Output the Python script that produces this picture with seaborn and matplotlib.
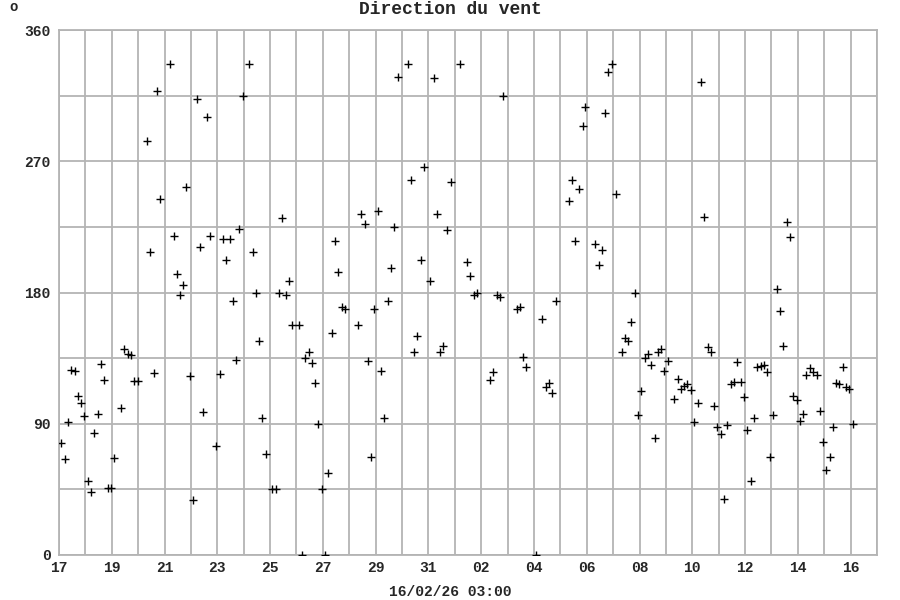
import matplotlib
matplotlib.use("Agg")
import matplotlib.pyplot as plt
import seaborn as sns
import pandas as pd

# Days elapsed since 17/01 00:00
days = [0.08, 0.22, 0.33, 0.47, 0.59, 0.71, 0.83, 0.96, 1.09, 1.21, 1.34, 1.46, 1.58, 1.72, 1.84, 1.97,
        2.10, 2.34, 2.48, 2.60, 2.73, 2.85, 2.98, 3.33, 3.46, 3.60, 3.72, 3.84, 4.22, 4.35, 4.46, 4.58,
        4.71, 4.82, 4.96, 5.09, 5.23, 5.33, 5.45, 5.59, 5.71, 5.96, 6.09, 6.20, 6.34, 6.48, 6.58, 6.72,
        6.82, 6.96, 7.19, 7.34, 7.46, 7.59, 7.71, 7.84, 8.09, 8.21, 8.33, 8.46, 8.59, 8.70, 8.83, 9.08,
        9.20, 9.33, 9.46, 9.58, 9.71, 9.82, 9.95, 10.09, 10.20, 10.33, 10.47, 10.58, 10.71, 10.83, 11.33,
        11.46, 11.59, 11.70, 11.82, 11.94, 12.10, 12.20, 12.32, 12.45, 12.58, 12.71, 12.83, 13.22, 13.33,
        13.45, 13.58, 13.70, 13.83, 14.07, 14.20, 14.31, 14.44, 14.57, 14.70, 14.84, 15.20, 15.47, 15.59,
        15.71, 15.83, 16.33, 16.45, 16.59, 16.70, 16.83, 17.34, 17.46, 17.59, 17.70, 18.07, 18.32, 18.45,
        18.57, 18.70, 18.83, 19.33, 19.46, 19.57, 19.71, 19.84, 19.95, 20.33, 20.45, 20.58, 20.71, 20.82,
        20.95, 21.09, 21.33, 21.44, 21.58, 21.69, 21.83, 21.96, 22.07, 22.20, 22.33, 22.45, 22.58, 22.70,
        22.83, 22.94, 23.07, 23.31, 23.45, 23.56, 23.69, 23.81, 23.95, 24.08, 24.20, 24.32, 24.46, 24.58,
        24.71, 24.82, 24.95, 25.09, 25.22, 25.33, 25.45, 25.58, 25.71, 25.83, 25.96, 26.07, 26.21, 26.33,
        26.45, 26.59, 26.71, 26.82, 26.94, 27.07, 27.20, 27.32, 27.45, 27.58, 27.70, 27.83, 27.96, 28.08,
        28.20, 28.32, 28.46, 28.59, 28.71, 28.84, 28.95, 29.08, 29.20, 29.33, 29.45, 29.57, 29.70, 29.82,
        29.95, 30.08]

# Wind direction in degrees
direction = [77, 66, 91, 127, 126, 109, 104, 95.5, 51, 43, 84, 97, 131, 120, 46, 46,
             66.5, 101, 141, 138, 137, 119, 119, 284, 208, 125, 318, 244, 337, 219, 193, 178,
             185, 252, 123, 38, 313, 211, 98, 300, 219, 75, 124, 217, 202.5, 217, 174, 134,
             223.5, 315, 337, 208, 180, 147, 94, 69, 45, 45, 180, 231, 178, 188, 157.5, 157.5,
             0, 135, 139, 132, 118, 90, 45, 0, 56, 152, 215, 194, 170, 168.5, 157.5,
             234, 227, 133, 67, 168.5, 236, 126, 94, 174, 197, 225, 328, 337, 257,
             139, 150, 202, 266, 188, 327, 234, 139.4, 143, 223, 256, 337, 201, 191,
             178, 180, 120, 125.5, 178, 177, 315, 168.5, 170, 136, 129, 0, 162, 115,
             118, 111, 174, 243, 257, 215, 251, 294, 307, 213.5, 199, 209, 303, 331,
             337, 247.5, 139, 149, 147, 160, 180, 96, 112.5, 135, 138, 130.5, 80, 139.4,
             141, 126, 133, 107, 121, 114, 116, 117.5, 113, 91, 104, 324, 232, 142.6,
             139, 102, 87.6, 83, 38.6, 89, 117.5, 118.6, 132.6, 118.6, 108.6, 85.7, 50.7, 93.7,
             129, 129.4, 130.5, 125.3, 67.4, 96, 182.6, 167, 143, 228, 218, 109, 106, 92,
             96.5, 123.6, 128, 125.7, 123.6, 98.7, 77.5, 58.3, 67, 87.6, 118, 117.5, 128.7, 115.4,
             113.8, 89.6]

x_labels = ["17", "19", "21", "23", "25", "27", "29", "31", "02", "04", "06", "08", "10", "12", "14", "16"]
y_ticks = [0, 90, 180, 270, 360]

df = pd.DataFrame({"day": days, "dir": direction})

sns.set_style("white")
plt.rcParams["font.family"] = ["Liberation Mono", "DejaVu Sans Mono"]
plt.rcParams["font.weight"] = "bold"

fig = plt.figure(figsize=(9, 6), dpi=100)
ax = fig.add_axes([59 / 900, 45 / 600, 818 / 900, 525 / 600])

grid_col = "#b4b4b4"
for d in range(0, 32):
    ax.axvline(d, color=grid_col, lw=1.3, zorder=0)
for v in range(0, 361, 45):
    ax.axhline(v, color=grid_col, lw=1.3, zorder=0)

sns.scatterplot(data=df, x="day", y="dir", marker="+", color="black", s=32,
                linewidth=1.0, ax=ax, zorder=3, legend=False)

ax.set_xlim(0, 31)
ax.set_ylim(0, 360)
ax.set_xticks(range(0, 31, 2))
ax.set_xticklabels(x_labels)
ax.set_yticks(y_ticks)
ax.set_yticklabels([str(t) for t in y_ticks])
ax.tick_params(axis="x", length=0, labelsize=10.5, pad=4)
ax.tick_params(axis="y", length=0, labelsize=10.5, pad=6)
for lab in ax.get_xticklabels() + ax.get_yticklabels():
    lab.set_fontweight("bold")
ax.set_xlabel("")
ax.set_ylabel("")
for sp in ax.spines.values():
    sp.set_color(grid_col)
    sp.set_linewidth(1.3)

fig.text(0.5, 0.984, "Direction du vent", ha="center", va="center", fontsize=13, fontweight="bold")
fig.text(0.5, 0.013, "16/02/26 03:00", ha="center", va="center", fontsize=10.5, fontweight="bold")
fig.text(14 / 900, 1 - 7 / 600, "o", ha="center", va="center", fontsize=10)

fig.savefig("out.png", dpi=100)
